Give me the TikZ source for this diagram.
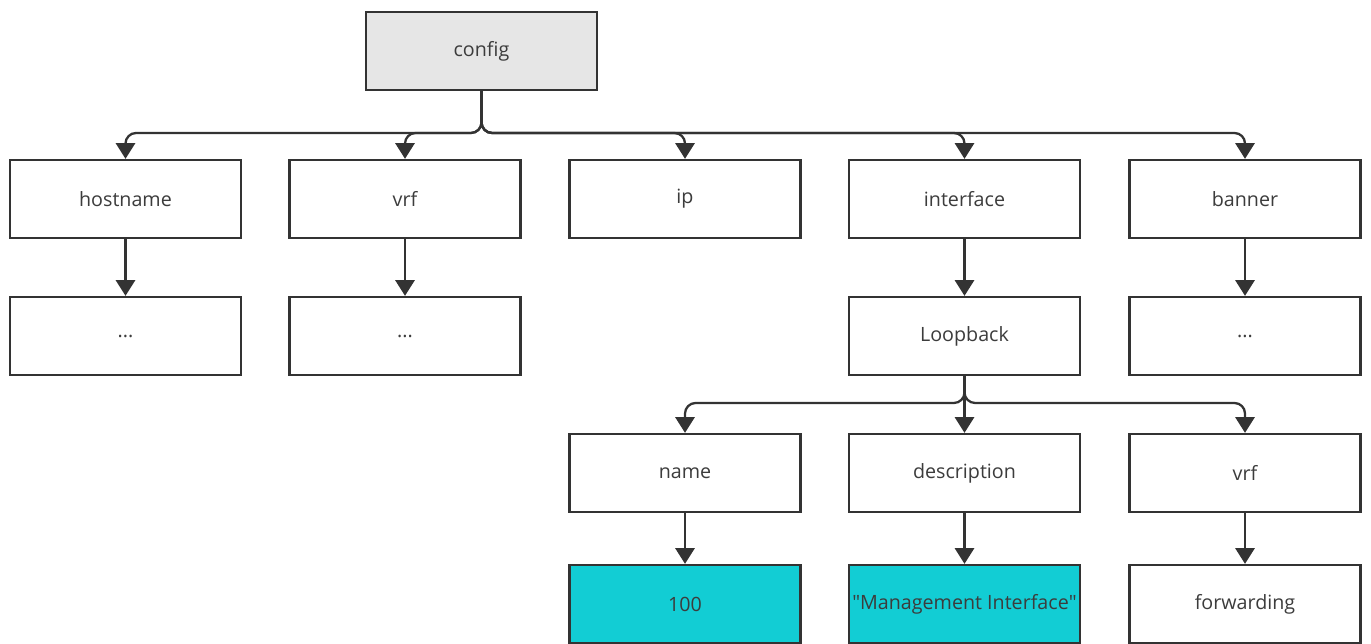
\documentclass[tikz,border=0pt]{standalone}
\usepackage{fontspec}
\setmainfont{Open Sans}
\usetikzlibrary{arrows.meta}
\definecolor{linegray}{HTML}{333333}
\definecolor{textgray}{HTML}{3C3C3C}
\definecolor{rootgray}{HTML}{E6E6E6}
\definecolor{valcyan}{HTML}{12CDD4}
\begin{document}
\begin{tikzpicture}[box/.style={draw=linegray,line width=1.3pt,fill=white,minimum width=4.62cm,minimum height=1.56cm,inner xsep=1pt,text=textgray,font=\fontsize{11.2}{13}\selectfont},
conn/.style={draw=linegray,line width=1.3pt,rounded corners=6pt,-{Triangle[width=11pt,length=9pt]}}]
\useasboundingbox (0,0) rectangle (27.42,12.88);
\node[box,fill=rootgray] (config) at (9.63,11.86) {config};
\node[box] (hostname) at (2.51,8.90) {hostname};
\node[box] (vrf) at (8.10,8.90) {vrf};
\node[box] (ip) at (13.70,8.90) {ip};
\node[box] (interface) at (19.29,8.90) {interface};
\node[box] (banner) at (24.90,8.90) {banner};
\node[box] (hostdots) at (2.51,6.16) {...};
\node[box] (vrfdots) at (8.10,6.16) {...};
\node[box] (loopback) at (19.29,6.16) {Loopback};
\node[box] (bannerdots) at (24.90,6.16) {...};
\node[box] (name) at (13.70,3.42) {name};
\node[box] (descr) at (19.29,3.42) {description};
\node[box] (lvrf) at (24.90,3.42) {vrf};
\node[box,fill=valcyan] (val100) at (13.70,0.80) {100};
\node[box,fill=valcyan] (valdescr) at (19.29,0.80) {\textquotedbl Management Interface\textquotedbl};
\node[box] (forwarding) at (24.90,0.80) {forwarding};
\foreach \c in {hostname,vrf,ip,interface,banner}\draw[conn] (config.south) -- (config.south |- 0,10.22) -| (\c.north);
\foreach \c in {name,descr,lvrf}\draw[conn] (loopback.south) -- (loopback.south |- 0,4.82) -| (\c.north);
\draw[conn] (hostname) -- (hostdots);
\draw[conn] (vrf) -- (vrfdots);
\draw[conn] (interface) -- (loopback);
\draw[conn] (banner) -- (bannerdots);
\draw[conn] (name) -- (val100);
\draw[conn] (descr) -- (valdescr);
\draw[conn] (lvrf) -- (forwarding);
\end{tikzpicture}
\end{document}
